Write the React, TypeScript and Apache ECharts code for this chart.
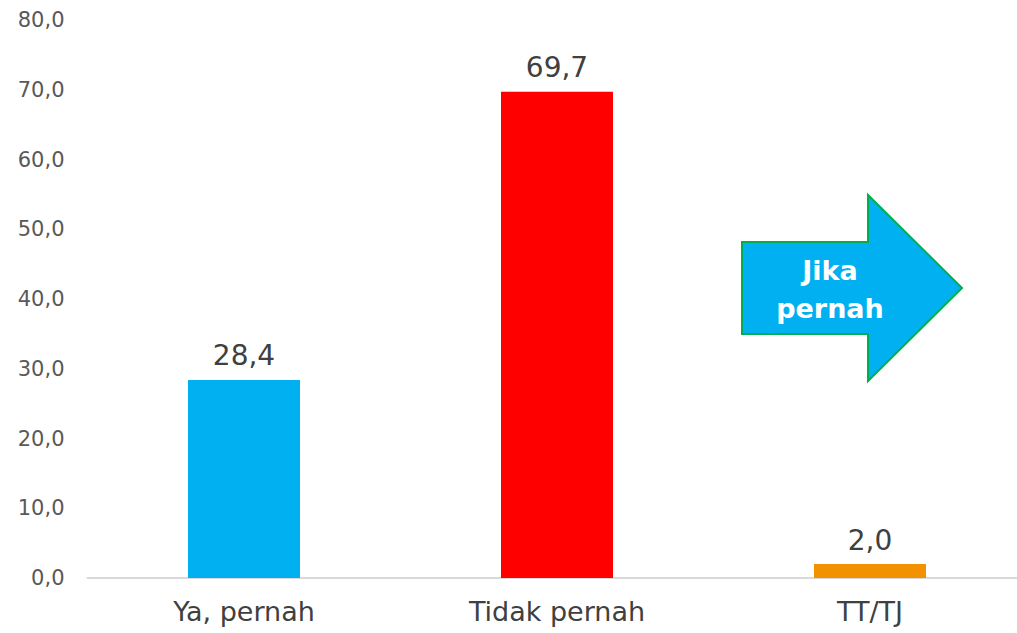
import React, { useEffect, useRef } from "react";
import * as echarts from "echarts";

const categories = ["Ya, pernah", "Tidak pernah", "TT/TJ"];
const values = [28.4, 69.7, 2.0];
const barColors = ["#00B0F0", "#FF0000", "#F39200"];
const arrowText = "Jika\npernah";

const fmt = (v: number) => v.toFixed(1).replace(".", ",");
const FONT = "'DejaVu Sans', sans-serif";

export default function App() {
  const ref = useRef<HTMLDivElement>(null);
  useEffect(() => {
    if (!ref.current) return;
    const chart = echarts.init(ref.current, null, { renderer: "svg" });
    chart.setOption({
      animation: false,
      grid: { left: 87.5, top: 20, height: 558, width: 939, outerBoundsMode: "none", containLabel: false },
      xAxis: {
        type: "category",
        data: categories,
        axisLine: { lineStyle: { color: "#D9D9D9", width: 2 } },
        axisTick: { show: false },
        axisLabel: { color: "#404040", fontSize: 27, fontFamily: FONT, margin: 20 },
      },
      yAxis: {
        type: "value",
        min: 0,
        max: 80,
        interval: 10,
        splitLine: { show: false },
        axisLine: { show: false },
        axisTick: { show: false },
        axisLabel: {
          color: "#595959",
          fontSize: 21,
          fontFamily: FONT,
          margin: 23,
          formatter: (v: number) => fmt(v),
        },
      },
      series: [
        {
          type: "bar",
          barWidth: 112,
          data: values.map((v, i) => ({ value: v, itemStyle: { color: barColors[i] } })),
          label: {
            show: true,
            position: "top",
            distance: 10,
            color: "#404040",
            fontSize: 28,
            fontFamily: FONT,
            formatter: (p: any) => fmt(p.value),
          },
        },
      ],
      graphic: [
        {
          type: "polygon",
          shape: {
            points: [
              [742, 242],
              [868, 242],
              [868, 195],
              [962, 288],
              [868, 381],
              [868, 334],
              [742, 334],
            ],
          },
          style: { fill: "#00B0F0", stroke: "#00B050", lineWidth: 2 },
          z: 10,
        },
        {
          type: "text",
          x: 830,
          y: 289,
          style: {
            text: arrowText,
            fill: "#FFFFFF",
            font: `bold 27px ${FONT}`,
            align: "center",
            verticalAlign: "middle",
            lineHeight: 38,
          },
          z: 11,
        },
      ],
    });
    return () => chart.dispose();
  }, []);
  return (
    <div
      ref={ref}
      style={{ position: "absolute", left: 0, top: 0, width: 1017, height: 633 }}
    />
  );
}
